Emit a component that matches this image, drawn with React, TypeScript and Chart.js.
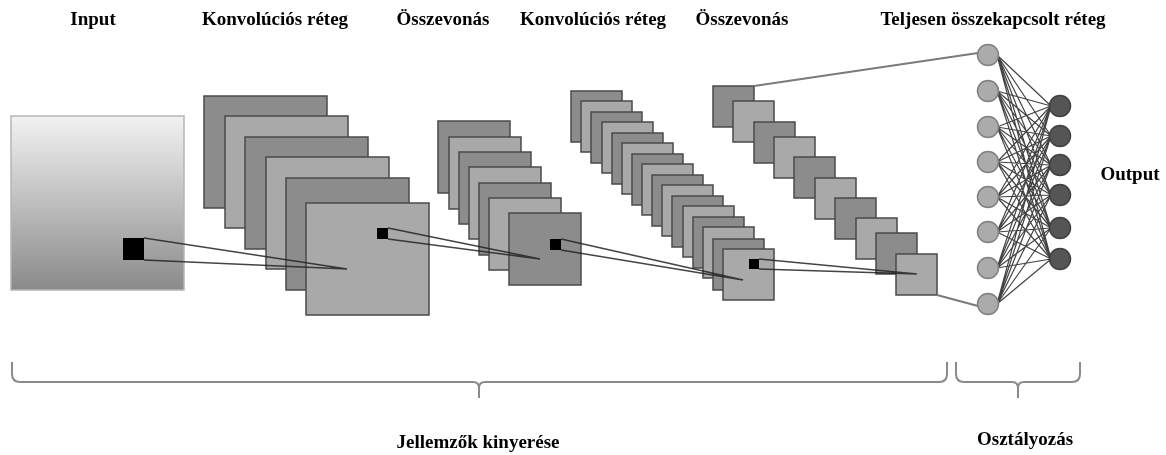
import React, { useEffect, useRef } from "react";
import { Chart, registerables } from "chart.js";

Chart.register(...registerables);

const W = 1166;
const H = 455;

// Layer titles
const titleLabels = ["Input", "Konvolúciós réteg", "Összevonás", "Konvolúciós réteg", "Összevonás", "Teljesen összekapcsolt réteg"];
const titleX = [93, 275, 443, 593, 742, 993];
const titleY = 20;

// Input image [x0, y0, x1, y1]
const inputRect = [11, 116, 184, 290];

// Convolution layer 1 (left, top), size
const conv1X = [204, 225, 245, 266, 286, 306];
const conv1Y = [96, 116, 137, 157, 178, 203];
const conv1Size = [123, 112];

// Pooling layer 1
const pool1X = [438, 449, 459, 469, 479, 489, 509];
const pool1Y = [121, 137, 152, 167, 183, 198, 213];
const pool1Size = [72, 72];

// Convolution layer 2
const conv2X = [571, 581, 591, 602, 612, 622, 632, 642, 652, 662, 672, 683, 693, 703, 713, 723];
const conv2Y = [91, 101, 112, 122, 133, 143, 154, 164, 175, 185, 196, 206, 217, 227, 239, 249];
const conv2Size = [51, 51];

// Pooling layer 2
const pool2X = [713, 733, 754, 774, 794, 815, 835, 856, 876, 896];
const pool2Y = [86, 101, 122, 137, 157, 178, 198, 218, 233, 254];
const pool2Size = [41, 41];

// Receptive field squares [x0,y0,x1,y1] and target points
const kernels = [
  [123, 238, 144, 260],
  [377, 228, 388, 239],
  [550, 239, 561, 250],
  [749, 259, 759, 269],
];
const kernelTargets = [
  [347, 269],
  [540, 259],
  [743, 280],
  [917, 274],
];

// Fully connected neurons
const fcLeftX = 988;
const fcLeftY = [55, 91, 127, 162, 197, 232, 268, 304];
const fcRightX = 1060;
const fcRightY = [106, 136, 165, 195, 228, 259];

// Braces [x0, x1, tipX]
const braces = [
  [12, 947, 479],
  [956, 1080, 1018],
];
const braceTop = 362;
const braceMid = 382;
const braceTip = 398;
const bottomLabels = ["Jellemzők kinyerése", "Osztályozás"];
const bottomLabelX = [478, 1025];
const bottomLabelY = [443, 440];
const outputLabel = "Output";
const outputX = 1130;
const outputY = 175;

const DARK = "#8c8c8c";
const LIGHT = "#a9a9a9";
const EDGE = "#4a4a4a";

const diagramPlugin = {
  id: "cnnDiagram",
  beforeDatasetsDraw(chart: any) {
    const ctx = chart.ctx;
    const sx = chart.scales.x;
    const sy = chart.scales.y;
    const px = (v: number) => sx.getPixelForValue(v);
    const py = (v: number) => sy.getPixelForValue(v);

    ctx.save();
    // Input gradient square
    const g = ctx.createLinearGradient(0, py(inputRect[1]), 0, py(inputRect[3]));
    g.addColorStop(0, "#f2f2f2");
    g.addColorStop(1, "#8a8a8a");
    ctx.fillStyle = g;
    ctx.fillRect(px(inputRect[0]), py(inputRect[1]), px(inputRect[2]) - px(inputRect[0]), py(inputRect[3]) - py(inputRect[1]));
    ctx.strokeStyle = "#b5b5b5";
    ctx.lineWidth = 1.5;
    ctx.strokeRect(px(inputRect[0]), py(inputRect[1]), px(inputRect[2]) - px(inputRect[0]), py(inputRect[3]) - py(inputRect[1]));

    const drawStack = (xs: number[], ys: number[], size: number[]) => {
      xs.forEach((x, i) => {
        const x0 = px(x), y0 = py(ys[i]);
        const w = px(x + size[0]) - x0, h = py(ys[i] + size[1]) - y0;
        ctx.fillStyle = i % 2 === 0 ? DARK : LIGHT;
        ctx.fillRect(x0, y0, w, h);
        ctx.strokeStyle = EDGE;
        ctx.lineWidth = 1.5;
        ctx.strokeRect(x0, y0, w, h);
      });
    };

    const drawKernel = (k: number) => {
      const [x0, y0, x1, y1] = kernels[k];
      const [tx, ty] = kernelTargets[k];
      ctx.fillStyle = "#000";
      ctx.fillRect(px(x0), py(y0), px(x1) - px(x0), py(y1) - py(y0));
      ctx.strokeStyle = "rgba(35,35,35,0.85)";
      ctx.lineWidth = 1.5;
      ctx.beginPath();
      ctx.moveTo(px(x1), py(y0));
      ctx.lineTo(px(tx), py(ty));
      ctx.moveTo(px(x1), py(y1));
      ctx.lineTo(px(tx), py(ty));
      ctx.stroke();
    };

    drawStack(conv1X, conv1Y, conv1Size);
    drawKernel(0);
    drawStack(pool1X, pool1Y, pool1Size);
    drawKernel(1);
    drawStack(conv2X, conv2Y, conv2Size);
    drawKernel(2);
    drawStack(pool2X, pool2Y, pool2Size);
    drawKernel(3);

    // lines from last pooling to fully connected layer
    ctx.strokeStyle = "#7a7a7a";
    ctx.lineWidth = 2;
    ctx.beginPath();
    ctx.moveTo(px(pool2X[0] + pool2Size[0]), py(pool2Y[0]));
    ctx.lineTo(px(fcLeftX - 10), py(fcLeftY[0] - 2));
    const li = pool2X.length - 1;
    ctx.moveTo(px(pool2X[li] + pool2Size[0]), py(pool2Y[li] + pool2Size[1]));
    ctx.lineTo(px(fcLeftX - 10), py(fcLeftY[fcLeftY.length - 1] + 2));
    ctx.stroke();

    // dense connections
    ctx.strokeStyle = "rgba(20,20,20,0.8)";
    ctx.lineWidth = 1.2;
    ctx.beginPath();
    fcLeftY.forEach((ly) => {
      fcRightY.forEach((ry) => {
        ctx.moveTo(px(fcLeftX + 9), py(ly));
        ctx.lineTo(px(fcRightX - 9), py(ry));
      });
    });
    ctx.stroke();

    // braces
    ctx.strokeStyle = "#8a8a8a";
    ctx.lineWidth = 2;
    const r = 8;
    braces.forEach(([a, b, t]) => {
      ctx.beginPath();
      ctx.moveTo(px(a), py(braceTop));
      ctx.lineTo(px(a), py(braceMid - r));
      ctx.quadraticCurveTo(px(a), py(braceMid), px(a + r), py(braceMid));
      ctx.lineTo(px(t - 6), py(braceMid));
      ctx.quadraticCurveTo(px(t), py(braceMid), px(t), py(braceMid + 6));
      ctx.lineTo(px(t), py(braceTip));
      ctx.moveTo(px(t), py(braceMid + 6));
      ctx.quadraticCurveTo(px(t), py(braceMid), px(t + 6), py(braceMid));
      ctx.lineTo(px(b - r), py(braceMid));
      ctx.quadraticCurveTo(px(b), py(braceMid), px(b), py(braceMid - r));
      ctx.lineTo(px(b), py(braceTop));
      ctx.stroke();
    });
    ctx.restore();
  },
  afterDraw(chart: any) {
    const ctx = chart.ctx;
    const sx = chart.scales.x;
    const sy = chart.scales.y;
    ctx.save();
    ctx.fillStyle = "#000";
    ctx.font = "bold 19px 'Liberation Serif', 'Times New Roman', serif";
    ctx.textAlign = "center";
    ctx.textBaseline = "middle";
    titleLabels.forEach((t, i) => ctx.fillText(t, sx.getPixelForValue(titleX[i]), sy.getPixelForValue(titleY)));
    bottomLabels.forEach((t, i) => ctx.fillText(t, sx.getPixelForValue(bottomLabelX[i]), sy.getPixelForValue(bottomLabelY[i])));
    ctx.fillText(outputLabel, sx.getPixelForValue(outputX), sy.getPixelForValue(outputY));
    ctx.restore();
  },
};

export default function App() {
  const ref = useRef<HTMLCanvasElement | null>(null);
  useEffect(() => {
    document.body.style.margin = "0";
    const canvas = ref.current!;
    const chart = new Chart(canvas, {
      type: "scatter",
      data: {
        datasets: [
          {
            label: "fc1",
            data: fcLeftY.map((y) => ({ x: fcLeftX, y })),
            pointRadius: 10.5,
            pointBackgroundColor: "#ababab",
            pointBorderColor: "#808080",
            pointBorderWidth: 1.5,
            showLine: false,
          },
          {
            label: "fc2",
            data: fcRightY.map((y) => ({ x: fcRightX, y })),
            pointRadius: 10.5,
            pointBackgroundColor: "#555555",
            pointBorderColor: "#404040",
            pointBorderWidth: 1.5,
            showLine: false,
          },
        ],
      },
      options: {
        responsive: false,
        animation: false,
        events: [],
        layout: { padding: 0, autoPadding: false },
        plugins: { legend: { display: false }, tooltip: { enabled: false } },
        scales: {
          x: { type: "linear", min: 0, max: W, display: false },
          y: { type: "linear", min: 0, max: H, reverse: true, display: false },
        },
      },
      plugins: [diagramPlugin],
    });
    return () => chart.destroy();
  }, []);
  return (
    <div style={{ position: "absolute", left: 0, top: 0, width: W, height: H, background: "#fff" }}>
      <canvas ref={ref} width={W} height={H} style={{ display: "block" }} />
    </div>
  );
}
